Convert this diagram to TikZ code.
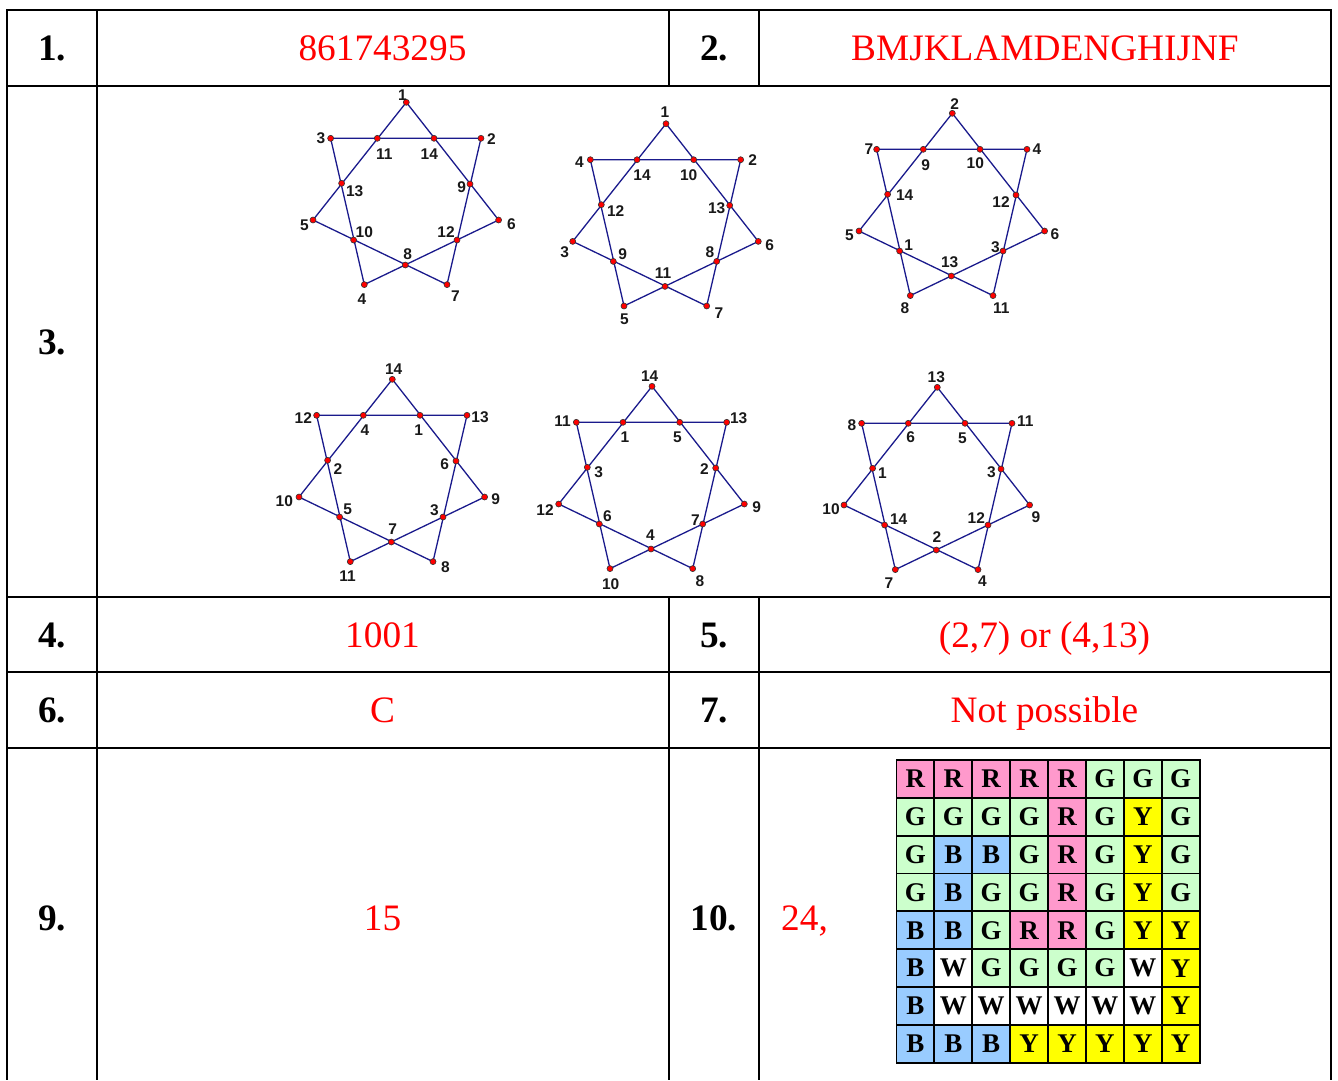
\documentclass[tikz,border=0pt]{standalone}
\usepackage{fontspec}
\setmainfont{Liberation Serif}
\newfontfamily\lblfont{Liberation Sans}
\definecolor{starblue}{HTML}{1A1A8C}
\definecolor{cellR}{HTML}{FF99CC}
\definecolor{cellG}{HTML}{CCFFCC}
\definecolor{cellB}{HTML}{99CCFF}
\definecolor{cellY}{HTML}{FFFF00}
\definecolor{cellW}{HTML}{FFFFFF}
\tikzset{
  rule/.style={draw=black,line width=1.9pt,line cap=rect},
  head/.style={font=\fontsize{37.3}{37.3}\selectfont\bfseries,inner sep=0pt,anchor=base},
  answer/.style={font=\fontsize{37.3}{37.3}\selectfont,text=red,inner sep=0pt,anchor=base},
  strokeline/.style={draw=starblue,line width=1.3pt},
  vertexdot/.style={circle,fill=red,draw=black!80,line width=0.6pt,inner sep=0pt,minimum size=6pt},
  numlabel/.style={font=\fontsize{15.5}{15.5}\selectfont\lblfont\bfseries,inner sep=0pt,text=black!90},
  cell/.style={draw=black,line width=1.8pt,minimum width=37.9pt,minimum height=37.85pt,inner sep=0pt,anchor=center,font=\fontsize{27}{27}\selectfont\bfseries}
}
\newcommand{\starshape}[3]{%
  \begin{scope}[shift={(#2,#3)}]
    \coordinate (#1t) at (0,0);
    \coordinate (#1ur) at (74.67,36);
    \coordinate (#1ul) at (-75.67,36);
    \coordinate (#1mr) at (92.3,117.7);
    \coordinate (#1ml) at (-93.3,117.7);
    \coordinate (#1br) at (40.7,182.3);
    \coordinate (#1bl) at (-42,182.3);
    \coordinate (#1a) at (-29,36);
    \coordinate (#1b) at (27.7,36);
    \coordinate (#1c) at (-64.7,81);
    \coordinate (#1d) at (63.7,81.7);
    \coordinate (#1e) at (-52.7,137.7);
    \coordinate (#1f) at (50.7,137.7);
    \coordinate (#1g) at (-1,162.7);
    \draw[strokeline] (#1ul) -- (#1ur) (#1ul) -- (#1bl) (#1ur) -- (#1br)
       (#1t) -- (#1ml) (#1t) -- (#1mr) (#1ml) -- (#1br) (#1mr) -- (#1bl);
    \foreach \p in {t,ur,ul,mr,ml,br,bl,a,b,c,d,e,f,g}
      \node[vertexdot] (#1dot\p) at (#1\p) {};
  \end{scope}}
\newcommand{\starlabels}[4]{%
  \foreach \zx/\zy/\tx [count=\i] in {#4}
    \node[numlabel] (#1lab\i) at ({#2+\zx/3},{#3+\zy/3}) {\tx};}
\begin{document}
\begin{tikzpicture}[x=1pt,y=-1pt]
\useasboundingbox (0,0) rectangle (1338,1080);
\fill[white] (0,0) rectangle (1338,1080);
% table rules
\coordinate (L0) at (7,10); \coordinate (R0) at (1331,10);
\coordinate (L1) at (7,86); \coordinate (R1) at (1331,86);
\coordinate (L2) at (7,597); \coordinate (R2) at (1331,597);
\coordinate (L3) at (7,672); \coordinate (R3) at (1331,672);
\coordinate (L4) at (7,748); \coordinate (R4) at (1331,748);
\coordinate (L5) at (7,1080); \coordinate (R5) at (1331,1080);
\draw[rule] (L0) -- (R0) (L1) -- (R1) (L2) -- (R2) (L3) -- (R3) (L4) -- (R4);
\draw[rule,line cap=butt] (L0) -- (L5) (R0) -- (R5) (97,10) -- (97,1080);
\draw[rule,line cap=butt] (669,10) -- (669,86) (759,10) -- (759,86);
\draw[rule,line cap=butt] (669,597) -- (669,1080) (759,597) -- (759,1080);
% headings
\node[head] (h1) at (52,60.8) {1.};
\node[head] (h2) at (714,60.8) {2.};
\node[head] (h3) at (52,354) {3.};
\node[head] (h4) at (52,647) {4.};
\node[head] (h5) at (714,647) {5.};
\node[head] (h6) at (52,722) {6.};
\node[head] (h7) at (714,722) {7.};
\node[head] (h9) at (52,930) {9.};
\node[head] (h10) at (714,930) {10.};
% answers
\node[answer] (a1) at (382.5,60.8) {861743295};
\node[answer] (a2) at (1045,60.8) {BMJKLAMDENGHIJNF};
\node[answer] (a4) at (382.5,647) {1001};
\node[answer] (a5) at (1044.5,647) {(2,7) or (4,13)};
\node[answer] (a6) at (382.5,722) {C};
\node[answer] (a7) at (1044.5,722) {Not possible};
\node[answer] (a9) at (382.5,930) {15};
\node[answer,anchor=base west] (a10) at (781,930) {24,};
% stars
\starshape{sa}{406.3}{102.3}
\starlabels{sa}{280}{85}{367/30/1,123/160/3,634/163/2,313/207/11,448/207/14,224/320/13,545/306/9,73/422/5,694/416/6,253/440/10,498/440/12,383/507/8,246/642/4,526/632/7}
\starshape{sb}{666}{123.7}
\starlabels{sb}{540}{95}{375/52/1,118/200/4,638/196/2,306/240/14,446/240/10,227/347/12,530/340/13,74/471/3,689/450/6,248/476/9,510/470/8,369/533/11,253/674/5,537/653/7}
\starshape{sc}{952.3}{113.3}
\starlabels{sc}{820}{90}{404/41/2,147/177/7,651/177/4,317/224/9,466/218/10,254/316/14,543/337/12,88/437/5,705/431/6,266/465/1,526/471/3,389/516/13,255/653/8,544/653/11}
\starshape{sd}{392.3}{379.3}
\starlabels{sd}{260}{355}{401/42/14,130/188/12,660/185/13,315/226/4,476/226/1,234/342/2,554/326/6,73/439/10,707/433/9,263/464/5,523/464/3,398/523/7,263/664/11,556/637/8}
\starshape{se}{652}{386.3}
\starlabels{se}{530}{360}{359/49/14,98/183/11,626/173/13,285/232/1,442/231/5,206/336/3,523/326/2,45/450/12,680/442/9,232/468/6,496/479/7,361/526/4,242/672/10,510/662/8}
\starshape{sf}{937.3}{387.3}
\starlabels{sf}{820}{360}{349/50/13,96/195/8,616/183/11,272/231/6,427/234/5,187/340/1,514/336/3,33/447/10,648/470/9,236/477/14,469/474/12,351/530/2,207/668/7,487/662/4}
% colour grid
\foreach \rowtext [count=\r from 0] in {
  {R,R,R,R,R,G,G,G},
  {G,G,G,G,R,G,Y,G},
  {G,B,B,G,R,G,Y,G},
  {G,B,G,G,R,G,Y,G},
  {B,B,G,R,R,G,Y,Y},
  {B,W,G,G,G,G,W,Y},
  {B,W,W,W,W,W,W,Y},
  {B,B,B,Y,Y,Y,Y,Y}}
  \foreach \c [count=\k from 0] in \rowtext
    \node[cell,fill=cell\c] (g\r-\k) at ({915.4+\k*37.9},{778.9+\r*37.85}) {\c};
\end{tikzpicture}
\end{document}
